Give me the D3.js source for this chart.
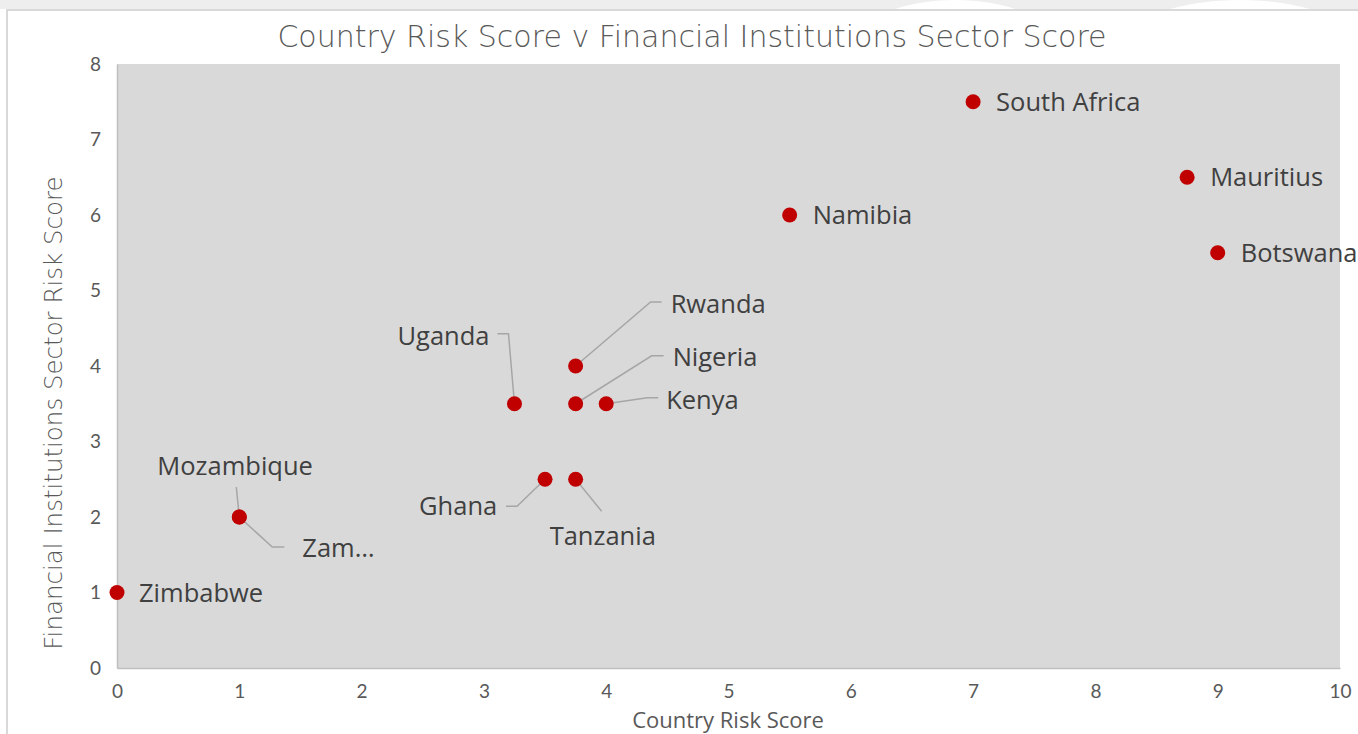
<!DOCTYPE html>
<html lang="en">
<head>
<meta charset="utf-8">
<title>Country Risk Score v Financial Institutions Sector Score</title>
<script src="https://cdn.jsdelivr.net/npm/d3@7"></script>
<style>
  html, body { margin: 0; padding: 0; background: #fff; }
  svg { display: block; }
  .tick text { font-family: Lato, "Open Sans", sans-serif; fill: #595959; }
  .lbl { font-family: "Open Sans", Lato, sans-serif; fill: #404040; }
</style>
</head>
<body>
<div id="chart"></div>
<script>
// data
var countries = ["Zimbabwe", "Mozambique", "Zambia", "Ghana", "Tanzania", "Uganda", "Nigeria",
                 "Kenya", "Rwanda", "Namibia", "South Africa", "Mauritius", "Botswana"];
var countryRisk = [0, 1, 1, 3.5, 3.75, 3.25, 3.75, 4, 3.75, 5.5, 7, 8.75, 9];
var sectorRisk  = [1, 2, 2, 2.5, 2.5, 3.5, 3.5, 3.5, 4, 6, 7.5, 6.5, 5.5];
var labelText   = ["Zimbabwe", "Mozambique", "Zam…", "Ghana", "Tanzania", "Uganda", "Nigeria",
                   "Kenya", "Rwanda", "Namibia", "South Africa", "Mauritius", "Botswana"];
var xTicks = [0, 1, 2, 3, 4, 5, 6, 7, 8, 9, 10];
var yTicks = [0, 1, 2, 3, 4, 5, 6, 7, 8];

// label placement (pixel offsets from the dot) and leader lines
var labelLayout = {
  "Zimbabwe":     { dx: 22, dy: 0 },
  "Mozambique":   { dx: -82, dy: -51, leader: [[-3, -30]] },
  "Zambia":       { dx: 63, dy: 31, leader: [[33, 30], [45, 30]] },
  "Ghana":        { dx: -126, dy: 27, leader: [[-28, 27], [-39, 27]] },
  "Tanzania":     { dx: -26, dy: 57, leader: [[26, 32]] },
  "Uganda":       { dx: -117, dy: -68, leader: [[-6, -70], [-17, -70]] },
  "Nigeria":      { dx: 97, dy: -47, leader: [[76, -48], [88, -48]] },
  "Kenya":        { dx: 60, dy: -4, leader: [[41, -6], [52, -6]] },
  "Rwanda":       { dx: 95, dy: -62, leader: [[75, -64], [86, -64]] },
  "Namibia":      { dx: 23, dy: 0 },
  "South Africa": { dx: 23, dy: 0 },
  "Mauritius":    { dx: 23, dy: 0 },
  "Botswana":     { dx: 23, dy: 0 }
};

var width = 1358, height = 734;
var margin = { left: 117, right: 18, top: 64, bottom: 66 };

var svg = d3.select("#chart").append("svg")
    .attr("width", width)
    .attr("height", height);

// faint watermark strip above the chart frame
svg.append("rect").attr("x", 0).attr("y", 0).attr("width", width).attr("height", 9).attr("fill", "#eeeeee");
svg.append("ellipse").attr("cx", 955).attr("cy", 40).attr("rx", 95).attr("ry", 40).attr("fill", "#fff");
svg.append("ellipse").attr("cx", 1240).attr("cy", 40).attr("rx", 110).attr("ry", 40).attr("fill", "#fff");

// chart frame
svg.append("rect")
    .attr("x", 7).attr("y", 10)
    .attr("width", width).attr("height", height)
    .attr("fill", "#fff")
    .attr("stroke", "#d9d9d9")
    .attr("stroke-width", 2);

var x = d3.scaleLinear().domain([0, 10]).range([margin.left, width - margin.right]);
var y = d3.scaleLinear().domain([0, 8]).range([height - margin.bottom, margin.top]);

// plot area
svg.append("rect")
    .attr("x", x(0)).attr("y", y(8))
    .attr("width", x(10) - x(0)).attr("height", y(0) - y(8))
    .attr("fill", "#d9d9d9");

var xAxis = svg.append("g")
    .attr("transform", "translate(0," + y(0) + ")")
    .call(d3.axisBottom(x).tickValues(xTicks).tickSize(0).tickPadding(17).tickFormat(d3.format("d")));
xAxis.select(".domain").attr("stroke", "#bfbfbf").attr("stroke-width", 1.5);
xAxis.selectAll("text").attr("font-size", 19);

var yAxis = svg.append("g")
    .attr("transform", "translate(" + x(0) + ",0)")
    .call(d3.axisLeft(y).tickValues(yTicks).tickSize(0).tickPadding(16).tickFormat(d3.format("d")));
yAxis.select(".domain").attr("stroke", "#bfbfbf").attr("stroke-width", 1.5);
yAxis.selectAll("text").attr("font-size", 19);

// titles
svg.append("text")
    .attr("x", 692).attr("y", 47)
    .attr("text-anchor", "middle")
    .attr("font-family", "'DejaVu Sans', sans-serif")
    .attr("font-weight", 200)
    .attr("font-size", 30)
    .attr("fill", "#595959")
    .text("Country Risk Score v Financial Institutions Sector Score");

svg.append("text")
    .attr("x", 728).attr("y", 728)
    .attr("text-anchor", "middle")
    .attr("font-family", "'Open Sans', sans-serif")
    .attr("font-size", 22)
    .attr("fill", "#595959")
    .text("Country Risk Score");

svg.append("text")
    .attr("transform", "translate(62,413) rotate(-90)")
    .attr("text-anchor", "middle")
    .attr("font-family", "'DejaVu Sans', sans-serif")
    .attr("font-weight", 200)
    .attr("font-size", 24.5)
    .attr("fill", "#595959")
    .text("Financial Institutions Sector Risk Score");

var points = countries.map(function (c, i) {
    return { name: c, cx: countryRisk[i], cy: sectorRisk[i], label: labelText[i] };
});

// leader lines
svg.append("g").selectAll("polyline")
    .data(points.filter(function (d) { return labelLayout[d.name].leader; }))
    .enter().append("polyline")
    .attr("fill", "none")
    .attr("stroke", "#a6a6a6")
    .attr("stroke-width", 1.5)
    .attr("points", function (d) {
        var px = x(d.cx), py = y(d.cy);
        var pts = [[px, py]].concat(labelLayout[d.name].leader.map(function (o) {
            return [px + o[0], py + o[1]];
        }));
        return pts.map(function (p) { return p.join(","); }).join(" ");
    });

// dots
svg.append("g").selectAll("circle")
    .data(points)
    .enter().append("circle")
    .attr("cx", function (d) { return x(d.cx); })
    .attr("cy", function (d) { return y(d.cy); })
    .attr("r", 7.5)
    .attr("fill", "#c00000");

// data labels
svg.append("g").selectAll("text")
    .data(points)
    .enter().append("text")
    .attr("class", "lbl")
    .attr("x", function (d) { return x(d.cx) + labelLayout[d.name].dx; })
    .attr("y", function (d) { return y(d.cy) + labelLayout[d.name].dy; })
    .attr("dy", "0.36em")
    .attr("font-size", 25.5)
    .text(function (d) { return d.label; });
</script>
</body>
</html>
